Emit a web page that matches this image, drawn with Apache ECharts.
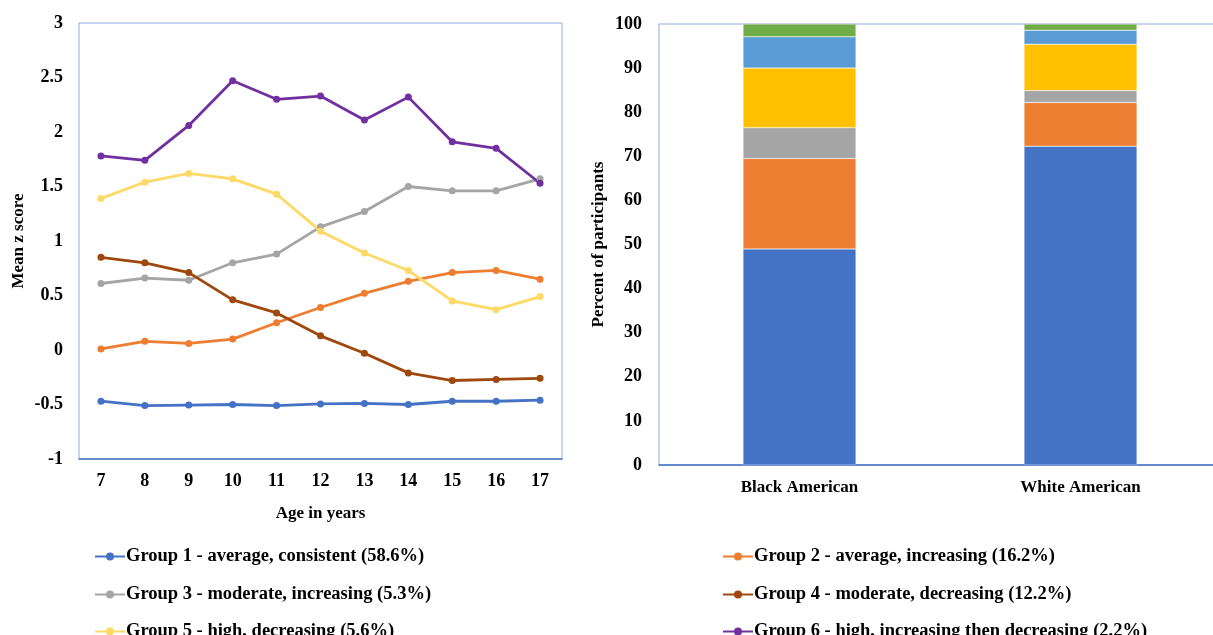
<!DOCTYPE html>
<html>
<head>
<meta charset="utf-8">
<script src="https://cdn.jsdelivr.net/npm/echarts@6/dist/echarts.min.js"></script>
<style>
html,body{margin:0;padding:0;background:#fff;overflow:hidden;}
#main{width:1222px;height:635px;}
</style>
</head>
<body>
<div id="main"></div>
<script>
// ages on the left chart
var ages = ['7','8','9','10','11','12','13','14','15','16','17'];
var groupNames = [
	'Group 1 - average, consistent (58.6%)',
	'Group 2 - average, increasing (16.2%)',
	'Group 3 - moderate, increasing (5.3%)',
	'Group 4 - moderate, decreasing (12.2%)',
	'Group 5 - high, decreasing (5.6%)',
	'Group 6 - high, increasing then decreasing (2.2%)'
];
var group1 = [-0.47,-0.51,-0.505,-0.50,-0.51,-0.495,-0.49,-0.50,-0.47,-0.47,-0.46];
var group2 = [0.01,0.08,0.06,0.10,0.25,0.39,0.52,0.63,0.71,0.73,0.65];
var group3 = [0.61,0.66,0.64,0.80,0.88,1.13,1.27,1.50,1.46,1.46,1.57];
var group4 = [0.85,0.80,0.71,0.46,0.34,0.13,-0.03,-0.21,-0.28,-0.27,-0.26];
var group5 = [1.39,1.54,1.62,1.57,1.43,1.09,0.89,0.73,0.45,0.37,0.49];
var group6 = [1.78,1.74,2.06,2.47,2.30,2.33,2.11,2.32,1.91,1.85,1.53];
var lineColors = ['#4472C4','#ED7D31','#A5A5A5','#9E480E','#FFD966','#7030A0'];

// right chart: percent of participants per group
var races = ['Black American','White American'];
var pct1 = [49.0, 72.3];
var pct2 = [20.5, 9.9];
var pct3 = [7.0, 2.7];
var pct4 = [13.5, 10.5];
var pct5 = [7.1, 3.2];
var pct6 = [2.9, 1.4];
var barColors = ['#4472C4','#ED7D31','#A5A5A5','#FFC000','#5B9BD5','#70AD47'];

var font = 'Liberation Serif';
var lineData = [group1,group2,group3,group4,group5,group6];
var barData = [pct1,pct2,pct3,pct4,pct5,pct6];

var series = [];
for (var i=0;i<6;i++){
	series.push({
		name: groupNames[i],
		type: 'line',
		xAxisIndex: 0, yAxisIndex: 0,
		data: lineData[i],
		symbol: 'circle',
		symbolSize: 7,
		color: lineColors[i],
		lineStyle: {width: 2.8, color: lineColors[i]},
		itemStyle: {color: lineColors[i]}
	});
}
for (var j=0;j<6;j++){
	series.push({
		name: 'bar' + (j+1),
		type: 'bar',
		stack: 'race',
		xAxisIndex: 1, yAxisIndex: 1,
		barWidth: 113,
		data: barData[j],
		itemStyle: {color: barColors[j], borderColor: 'rgba(255,255,255,0.6)', borderWidth: 0.5}
	});
}

var textBase = {fontFamily: font, fontWeight: 'bold', color: '#000', fontSize: 18};

// one legend per item: two columns, three rows
var legends = [];
var legendX = [89, 717];
var legendY = [542, 580, 617];
for (var k=0;k<6;k++){
	legends.push({
		data: [groupNames[k]],
		left: legendX[k % 2], top: legendY[Math.floor(k / 2)],
		itemWidth: 30, itemHeight: 10, itemGap: 0,
		textStyle: {fontFamily: font, fontWeight: 'bold', fontSize: 18.5, color: '#000', padding: [0,0,0,-4]}
	});
}

var option = {
	animation: false,
	backgroundColor: '#fff',
	grid: [
		{left: 79, top: 23, width: 483, height: 436, show: true, borderColor: '#8FAADC', borderWidth: 1},
		{left: 659, top: 24, width: 562, height: 441, show: true, borderColor: '#8FAADC', borderWidth: 1}
	],
	legend: legends,
	xAxis: [
		{
			type: 'category', gridIndex: 0, data: ages,
			name: 'Age in years', nameLocation: 'middle', nameGap: 46,
			nameTextStyle: {fontFamily: font, fontWeight: 'bold', fontSize: 17, color: '#000'},
			axisLine: {onZero: false, lineStyle: {color: '#4472C4', width: 1.5}},
			axisTick: {show: false},
			axisLabel: Object.assign({margin: 13}, textBase)
		},
		{
			type: 'category', gridIndex: 1, data: races,
			axisLine: {onZero: false, lineStyle: {color: '#4472C4', width: 1.5}},
			axisTick: {show: false},
			axisLabel: Object.assign({margin: 14}, textBase, {fontSize: 17})
		}
	],
	yAxis: [
		{
			type: 'value', gridIndex: 0, min: -1, max: 3, interval: 0.5,
			name: 'Mean z score', nameLocation: 'middle', nameGap: 52, nameRotate: 90,
			nameTextStyle: {fontFamily: font, fontWeight: 'bold', fontSize: 17, color: '#000'},
			axisLine: {show: false}, axisTick: {show: false},
			splitLine: {show: false},
			axisLabel: Object.assign({margin: 16}, textBase)
		},
		{
			type: 'value', gridIndex: 1, min: 0, max: 100, interval: 10,
			name: 'Percent of participants', nameLocation: 'middle', nameGap: 52, nameRotate: 90,
			nameTextStyle: {fontFamily: font, fontWeight: 'bold', fontSize: 17, color: '#000'},
			axisLine: {show: false}, axisTick: {show: false},
			splitLine: {show: false},
			axisLabel: Object.assign({margin: 17}, textBase)
		}
	],
	series: series
};

var myChart = echarts.init(document.getElementById('main'));
myChart.setOption(option);
</script>
</body>
</html>
